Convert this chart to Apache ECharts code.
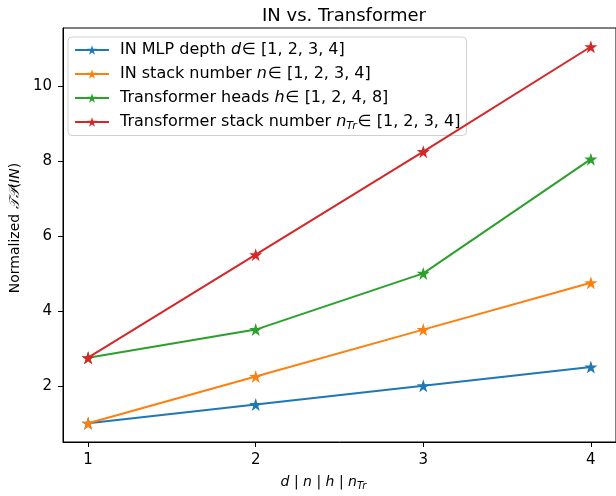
<!DOCTYPE html>
<html><head><meta charset="utf-8">
<script src="https://cdn.jsdelivr.net/npm/echarts@6/dist/echarts.min.js"></script>
<style>html,body{margin:0;padding:0;background:#fff}#c{width:616px;height:496px}</style>
</head><body><div id="c"></div>
<script>
const xValues = [1, 2, 3, 4];
const xTicks = [1, 2, 3, 4];
const yTicks = [2, 4, 6, 8, 10];
const inMlpDepth = [1.0, 1.5, 2.0, 2.5];
const inStackNumber = [1.0, 2.25, 3.5, 4.75];
const trHeads = [2.75, 3.5, 5.0, 8.05];
const trStackNumber = [2.75, 5.5, 8.25, 11.05];
const seriesNames = ['IN MLP depth', 'IN stack number', 'Transformer heads', 'Transformer stack number'];
const legendLabels = [
  'IN MLP depth {i|d}{t|∈ [1, 2, 3, 4]}',
  'IN stack number {i|n}{t|∈ [1, 2, 3, 4]}',
  'Transformer heads {i|h}{t|∈ [1, 2, 4, 8]}',
  'Transformer stack number {i|n}{s|Tr}{t|∈ [1, 2, 3, 4]}'
];
const colors = ['#1f77b4', '#ff7f0e', '#2ca02c', '#d62728'];
const star = 'path://M50,0 L61.8,36.3 L100,36.3 L69.1,58.8 L80.9,95.1 L50,72.6 L19.1,95.1 L30.9,58.8 L0,36.3 L38.2,36.3 Z';
const allData = [inMlpDepth, inStackNumber, trHeads, trStackNumber];
const font = 'DejaVu Sans';
const chart = echarts.init(document.getElementById('c'));
chart.setOption({
  animation: false,
  backgroundColor: '#fff',
  title: { text: 'IN vs. Transformer', left: 339, top: 2, textAlign: 'center',
    textStyle: { fontFamily: font, fontSize: 18, fontWeight: 'normal', color: '#000' } },
  grid: { left: 62, right: -1, top: 28, bottom: 53, show: true, borderColor: '#000', borderWidth: 1 },
  legend: {
    left: 68, top: 37, orient: 'vertical', itemWidth: 34, itemHeight: 12, itemGap: 8,
    padding: [5, 6, 4, 6], borderColor: '#d0d0d0', borderWidth: 1, borderRadius: 4,
    backgroundColor: 'rgba(255,255,255,0.8)',
    data: seriesNames,
    formatter: function (name) { return legendLabels[seriesNames.indexOf(name)]; },
    textStyle: { fontFamily: font, fontSize: 16, color: '#000', padding: [0, 0, 0, 6],
      rich: {
        i: { fontFamily: font, fontSize: 16, fontStyle: 'italic', color: '#000' },
        t: { fontFamily: font, fontSize: 16, color: '#000', padding: [0, 0, 0, 1] },
        s: { fontFamily: font, fontSize: 11, fontStyle: 'italic', color: '#000', padding: [8, 0, 0, 0] }
      } }
  },
  xAxis: {
    type: 'value', min: 0.85, max: 4.15,
    name: '{i|d} | {i|n} | {i|h} | {i|n}{s|Tr}', nameLocation: 'middle', nameGap: 31,
    nameTextStyle: { fontFamily: font, fontSize: 14, color: '#000', padding: [0, 32, 0, 0],
      rich: { i: { fontFamily: font, fontSize: 14, fontStyle: 'italic', color: '#000' },
              s: { fontFamily: font, fontSize: 10, fontStyle: 'italic', color: '#000', padding: [8, 0, 0, 0] } } },
    axisLine: { show: true, onZero: false, lineStyle: { color: '#000', width: 1 } },
    axisTick: { show: true, inside: false, length: 5, customValues: xTicks, lineStyle: { color: '#000' } },
    axisLabel: { customValues: xTicks, fontFamily: font, fontSize: 15, color: '#000', margin: 11 },
    splitLine: { show: false }
  },
  yAxis: {
    type: 'value', min: 0.5, max: 11.55,
    name: 'Normalized {c|𝒯𝒫}({i|IN})', nameLocation: 'middle', nameGap: 40,
    nameTextStyle: { fontFamily: font, fontSize: 14, color: '#000', padding: [0, 0, 0, 14],
      rich: { i: { fontFamily: font, fontSize: 14, fontStyle: 'italic', color: '#000' },
              c: { fontFamily: 'DejaVu Serif', fontSize: 14, fontStyle: 'italic', color: '#000' } } },
    axisLine: { show: true, onZero: false, lineStyle: { color: '#000', width: 1 } },
    axisTick: { show: true, inside: false, length: 5, customValues: yTicks, lineStyle: { color: '#000' } },
    axisLabel: { customValues: yTicks, fontFamily: font, fontSize: 15, color: '#000', margin: 11 },
    splitLine: { show: false }
  },
  series: allData.map(function (vals, k) {
    return {
      name: seriesNames[k], type: 'line', color: colors[k],
      data: xValues.map(function (x, j) { return [x, vals[j]]; }),
      symbol: star, symbolSize: 13, showAllSymbol: true,
      lineStyle: { width: 2, color: colors[k] },
      itemStyle: { color: colors[k] }, z: 2 + k
    };
  })
});
</script></body></html>
